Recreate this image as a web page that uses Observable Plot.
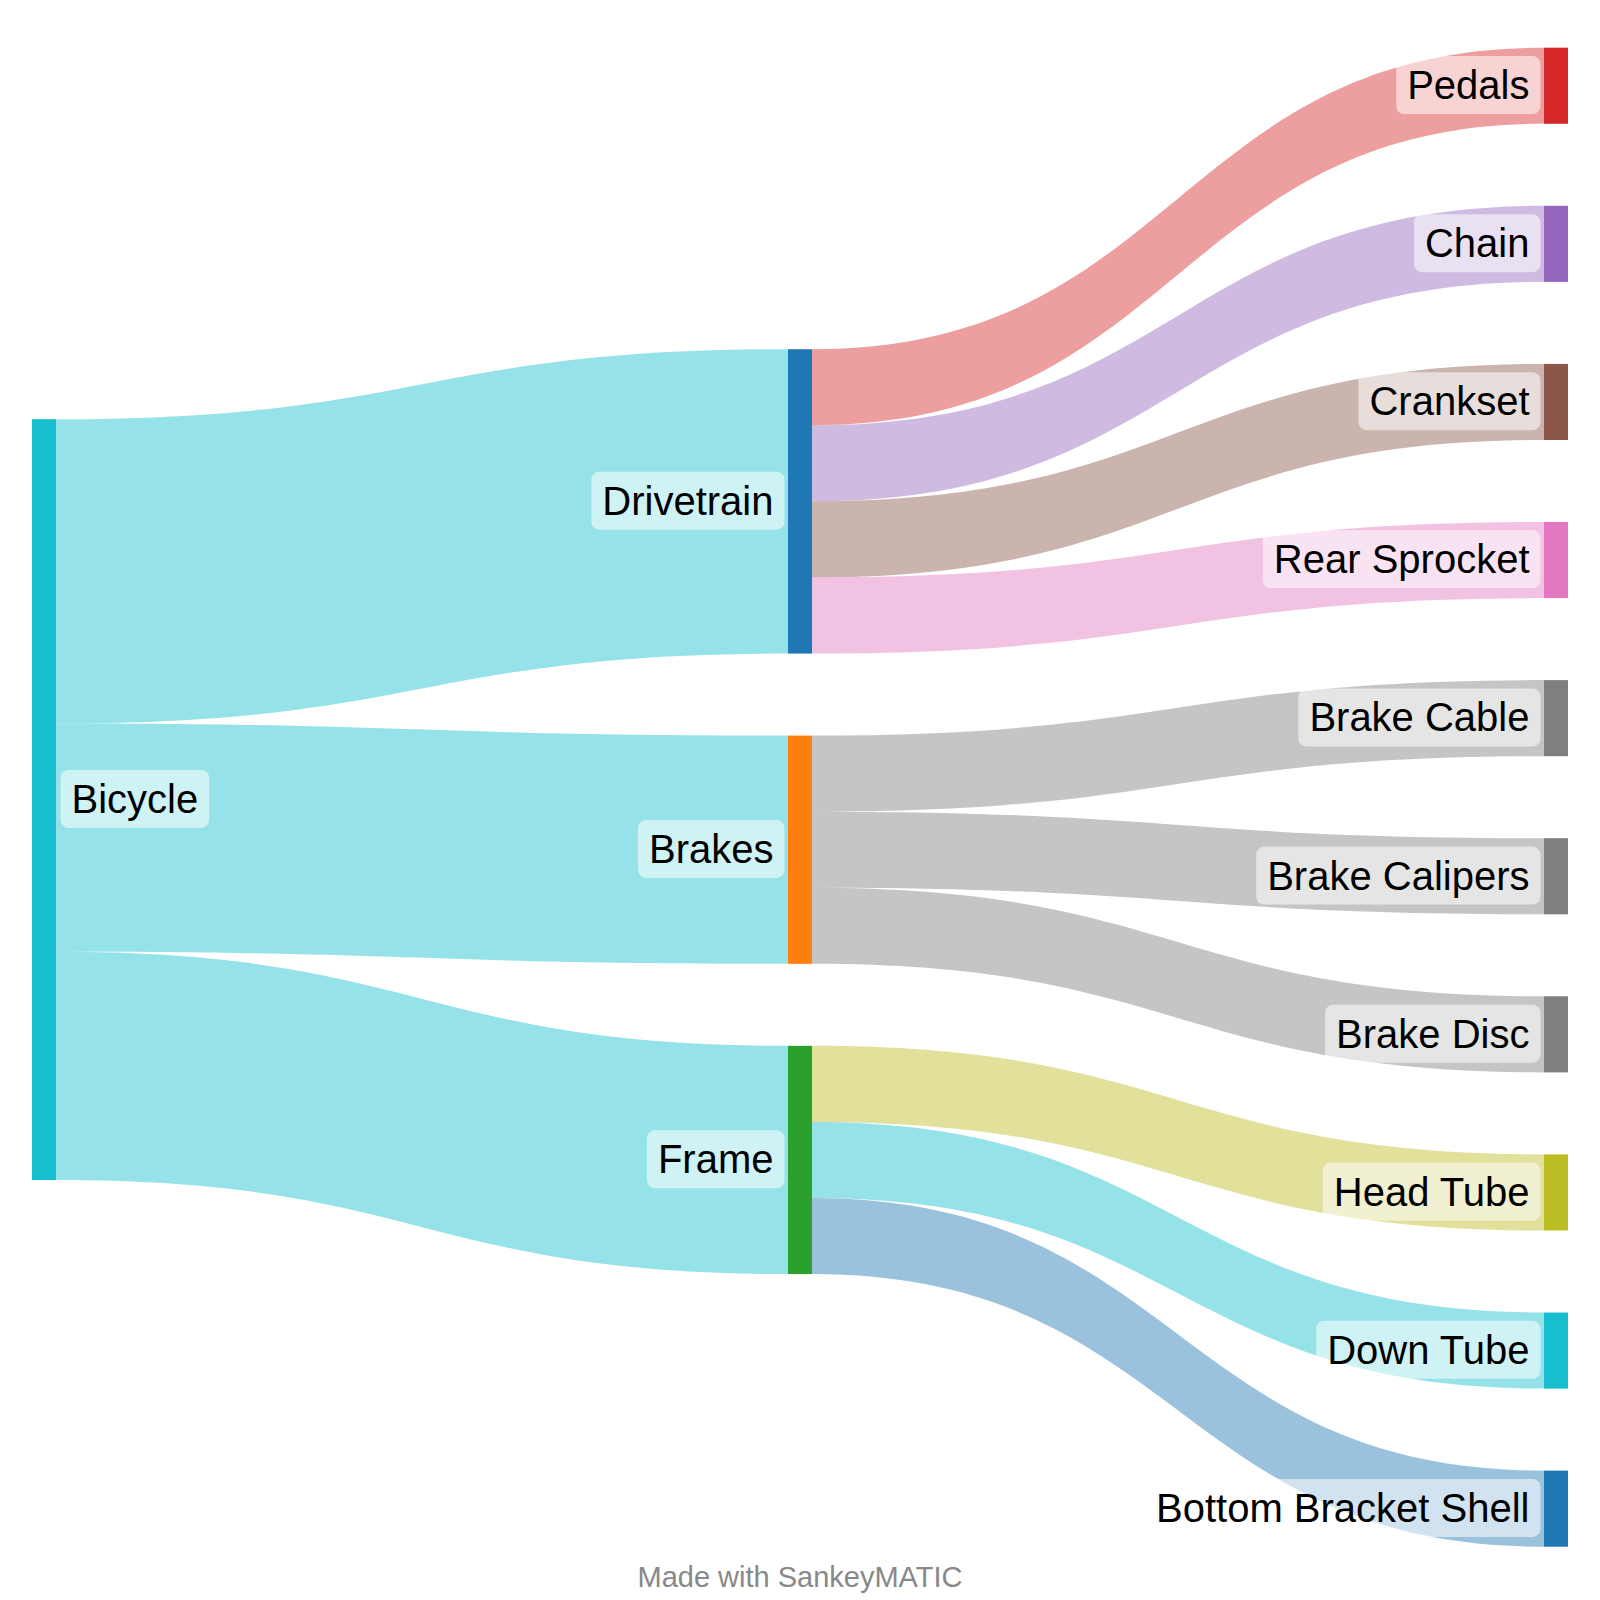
<!DOCTYPE html>
<html><head><meta charset="utf-8">
<script src="https://cdn.jsdelivr.net/npm/d3@7"></script>
<script src="https://cdn.jsdelivr.net/npm/@observablehq/plot@0.6"></script>
<style>
body{margin:0;background:#fff;overflow:hidden;}
#caption{font-family:"Liberation Sans",Arial,Helvetica,sans-serif;font-size:29px;color:#888;text-align:center;width:1600px;line-height:34px;}
</style></head><body>
<div id="chart"></div>
<div id="caption">Made with SankeyMATIC</div>
<script>
// ---- data ----
const sources = ["Bicycle","Bicycle","Bicycle","Drivetrain","Drivetrain","Drivetrain","Drivetrain","Brakes","Brakes","Brakes","Frame","Frame","Frame"];
const targets = ["Drivetrain","Brakes","Frame","Pedals","Chain","Crankset","Rear Sprocket","Brake Cable","Brake Calipers","Brake Disc","Head Tube","Down Tube","Bottom Bracket Shell"];
const values  = [4,3,3,1,1,1,1,1,1,1,1,1,1];
const nodeNames = ["Bicycle","Drivetrain","Brakes","Frame","Pedals","Chain","Crankset","Rear Sprocket","Brake Cable","Brake Calipers","Brake Disc","Head Tube","Down Tube","Bottom Bracket Shell"];

// ---- style ----
const nodeColors = {
  "Bicycle":"#17becf","Drivetrain":"#1f77b4","Brakes":"#ff7f0e","Frame":"#2ca02c",
  "Pedals":"#d62728","Chain":"#9467bd","Crankset":"#8c564b","Rear Sprocket":"#e377c2",
  "Brake Cable":"#7f7f7f","Brake Calipers":"#7f7f7f","Brake Disc":"#7f7f7f",
  "Head Tube":"#bcbd22","Down Tube":"#17becf","Bottom Bracket Shell":"#1f77b4"
};

// ---- layout (value units) ----
const nodeWidth = 24 / 756;          // in column units
const gap = 1.078;                   // gap between nodes, value units
const columnTop = [4.883, 3.963, 0]; // top of each column, value units

const depth = {Bicycle: 0};
sources.forEach((s, i) => { depth[targets[i]] = depth[s] + 1; });
const inSum = {}, outSum = {};
sources.forEach((s, i) => {
  outSum[s] = (outSum[s] || 0) + values[i];
  inSum[targets[i]] = (inSum[targets[i]] || 0) + values[i];
});
const colCursor = columnTop.slice();
const nodes = nodeNames.map(name => {
  const col = depth[name];
  const v = Math.max(inSum[name] || 0, outSum[name] || 0);
  const y0 = colCursor[col];
  colCursor[col] += v + gap;
  return {name, col, y0, y1: y0 + v, x0: col, x1: col + nodeWidth, color: nodeColors[name]};
});
const byName = Object.fromEntries(nodes.map(n => [n.name, n]));
const outOff = Object.fromEntries(nodes.map(n => [n.name, n.y0]));
const inOff = Object.fromEntries(nodes.map(n => [n.name, n.y0]));
const linkPoints = [];
sources.forEach((s, i) => {
  const t = targets[i], v = values[i];
  const S = byName[s], T = byName[t];
  const color = S.col === 0 ? S.color : T.color;
  linkPoints.push({id: i, x: S.x1, y1: outOff[s], y2: outOff[s] + v, color});
  linkPoints.push({id: i, x: T.x0, y1: inOff[t], y2: inOff[t] + v, color});
  outOff[s] += v; inOff[t] += v;
});
const totalRight = 10 + 9 * gap;

const plot = Plot.plot({
  width: 1600,
  height: 1560,
  style: {fontFamily: "'Liberation Sans', Arial, Helvetica, sans-serif", background: "#fff"},
  x: {domain: [0, 2], range: [32, 1544], axis: null},
  y: {domain: [0, totalRight], range: [47.7, 1546.7], axis: null},
  color: {type: "identity"},
  marks: [
    Plot.areaY(linkPoints, {x: "x", y1: "y1", y2: "y2", z: "id", fill: "color", fillOpacity: 0.45, curve: "bump-x"}),
    Plot.rect(nodes, {x1: "x0", x2: "x1", y1: "y0", y2: "y1", fill: "color"}),
    Plot.text(nodes.filter(d => d.col === 0), {x: "x1", y: d => (d.y0 + d.y1) / 2, text: "name", textAnchor: "start", dx: 15, fontSize: 40, fill: "#000"}),
    Plot.text(nodes.filter(d => d.col > 0), {x: "x0", y: d => (d.y0 + d.y1) / 2, text: "name", textAnchor: "end", dx: -15, fontSize: 40, fill: "#000"})
  ]
});
document.getElementById("chart").appendChild(plot);

// label background boxes (drawn behind each label text)
const svgNS = "http://www.w3.org/2000/svg";
Array.from(plot.querySelectorAll("text")).forEach(t => {
  const bb = t.getBBox();
  if (!bb || !bb.width) return;
  const r = document.createElementNS(svgNS, "rect");
  const cy = bb.y + bb.height / 2;
  r.setAttribute("x", bb.x - 11);
  r.setAttribute("y", cy - 29);
  r.setAttribute("width", bb.width + 22);
  r.setAttribute("height", 58);
  r.setAttribute("rx", 8);
  r.setAttribute("ry", 8);
  r.style.fill = "#ffffff";
  r.style.fillOpacity = "0.55";
  r.style.stroke = "none";
  const tr = t.getAttribute("transform");
  if (tr) r.setAttribute("transform", tr);
  t.parentNode.insertBefore(r, t);
});
</script>
</body></html>
